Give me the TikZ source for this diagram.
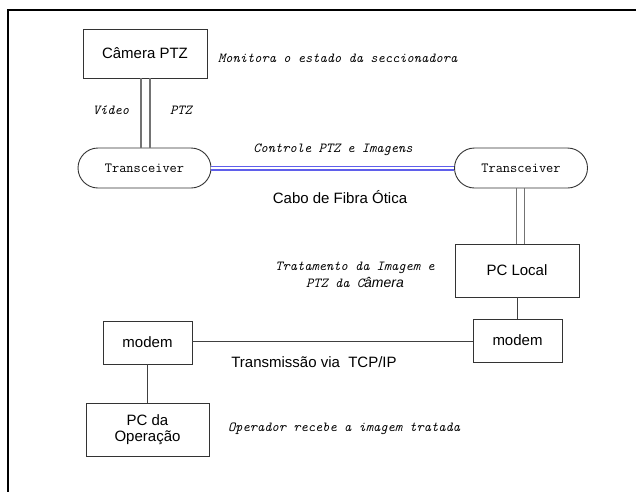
\documentclass[tikz,border=0pt]{standalone}
\usepackage{fontspec}
\setmainfont{Liberation Sans}
\usetikzlibrary{shapes.misc}
\tikzset{
  box/.style={draw=black!80, line width=0.9pt, minimum width=#1, inner sep=0pt, font=\fontsize{15}{18}\selectfont, align=center},
  trans/.style={draw=black!80, line width=0.9pt, rounded rectangle, minimum width=133pt, minimum height=40pt, inner sep=0pt, font=\ttfamily\fontsize{14}{15}\selectfont},
  note/.style={font=\ttfamily\itshape\fontsize{13.8}{17}\selectfont, inner sep=0pt, align=center},
  plain/.style={font=\fontsize{15}{18}\selectfont, inner sep=0pt},
  wire/.style={draw=black!75, line width=0.9pt},
  twin/.style={draw=black!55, line width=1.4pt},
  fibre/.style={draw={rgb,255:red,95;green,95;blue,235}, line width=1.5pt, double=white, double distance=2pt}
}
\begin{document}
\begin{tikzpicture}[x=1pt,y=-1pt]
\useasboundingbox (0,0) rectangle (636,491);
\fill[white] (0,0) rectangle (636,491);
% frame
\draw[line width=2pt] (8,500) -- (8,10) -- (640,10);
% nodes
\node[box=124pt, minimum height=49pt] (cam) at (145,53.5) {Câmera PTZ};
\node[trans] (t1) at (144.5,168) {Transceiver};
\node[trans] (t2) at (521,168) {Transceiver};
\node[box=124pt, minimum height=53pt] (pcl) at (517,270.5) {PC Local};
\node[box=89pt, minimum height=43pt] (m2) at (517.5,340.5) {modem};
\node[box=89pt, minimum height=43pt] (m1) at (147.5,342.5) {modem};
\node[box=123pt, minimum height=53pt] (pco) at (147.5,429.5) {PC da\\[-2pt]Operação};
% connectors
\draw[twin] ([xshift=-4pt]cam.south) -- ([xshift=-4pt]cam.south |- t1.north);
\draw[twin] ([xshift=5pt]cam.south) -- ([xshift=5pt]cam.south |- t1.north);
\draw[fibre] (t1.east) -- (t2.west);
\draw[twin] ([xshift=-4.5pt]t2.south) -- ([xshift=-4.5pt]t2.south |- pcl.north);
\draw[twin] ([xshift=3.5pt]t2.south) -- ([xshift=3.5pt]t2.south |- pcl.north);
\draw[wire] (pcl.south) -- (pcl.south |- m2.north);
\draw[wire] (m1.east |- 0,341.5) -- (m2.west |- 0,341.5);
\draw[wire] (m1.south) -- (pco.north);
% labels
\node[note, anchor=west] (l1) at (218,58) {Monitora o estado da seccionadora};
\node[note] (l2) at (111,110) {Vídeo};
\node[note] (l3) at (181,110) {PTZ};
\node[note] (l4) at (333,150) {Controle PTZ e Imagens};
\node[plain] (l5) at (340,197) {Cabo de Fibra Ótica};
\node[note] (l6) at (355,275) {Tratamento da Imagem e\\PTZ da C{\rmfamily\itshape\fontsize{14}{15}\selectfont âmera}};
\node[plain] (l7) at (314,362) {Transmissão via\ \ TCP/IP};
\node[note, anchor=west] (l8) at (228,429) {Operador recebe a imagem tratada};
\end{tikzpicture}
\end{document}
